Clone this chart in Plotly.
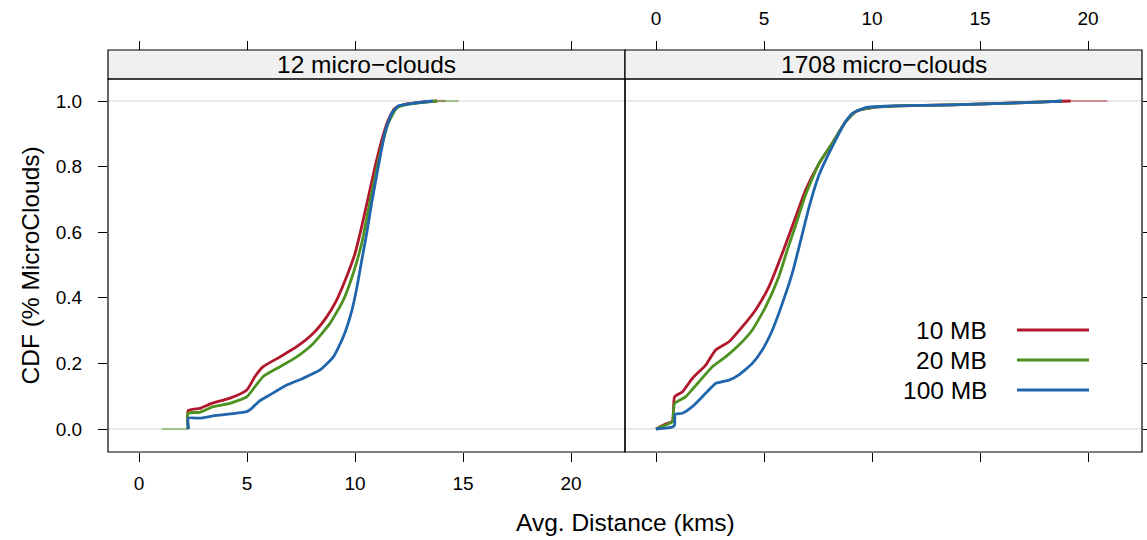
import plotly.graph_objects as go

# ---------------- data ----------------
series_names = ["10 MB", "20 MB", "100 MB"]
series_colors = ["#B2182B", "#4D9221", "#2166AC"]
series_faint = ["rgba(178,24,43,0.45)", "rgba(77,146,33,0.45)", "rgba(33,102,172,0.45)"]
panel_titles = ["12 micro\u2212clouds", "1708 micro\u2212clouds"]
x_ticks = [0, 5, 10, 15, 20]
y_ticks = [0.0, 0.2, 0.4, 0.6, 0.8, 1.0]
y_tick_labels = ["0.0", "0.2", "0.4", "0.6", "0.8", "1.0"]

# panel 1: 12 micro-clouds
red_L_x = [2.28, 2.28, 2.82, 3.36, 4.21, 4.99, 5.37, 5.75, 6.53, 7.30, 8.07, 8.69, 9.15, 9.61, 10.0,
           10.31, 10.62, 10.93, 11.24, 11.54, 11.85, 12.39, 13.0, 13.8]
red_L_y = [0.0, 0.056, 0.063, 0.078, 0.094, 0.119, 0.16, 0.19, 0.22, 0.251, 0.292, 0.342, 0.393, 0.464,
           0.535, 0.617, 0.708, 0.80, 0.881, 0.942, 0.978, 0.991, 0.996, 1.0]
green_L_x = [2.28, 2.28, 2.82, 3.44, 4.21, 4.99, 5.37, 5.75, 6.53, 7.30, 8.07, 8.84, 9.46, 9.92, 10.31,
             10.62, 10.93, 11.24, 11.54, 11.93, 12.55, 13.8]
green_L_y = [0.0, 0.048, 0.051, 0.068, 0.078, 0.098, 0.129, 0.16, 0.19, 0.22, 0.261, 0.322, 0.393, 0.475,
             0.566, 0.668, 0.769, 0.861, 0.932, 0.978, 0.991, 1.0]
blue_L_x = [2.28, 2.28, 2.82, 3.44, 4.21, 4.99, 5.22, 5.53, 6.06, 6.84, 7.61, 8.38, 9.0, 9.46, 9.85,
            10.08, 10.3, 10.55, 10.8, 11.08, 11.39, 11.70, 12.0, 12.7, 13.6]
blue_L_y = [0.0, 0.033, 0.033, 0.040, 0.046, 0.053, 0.063, 0.083, 0.104, 0.134, 0.155, 0.18, 0.22, 0.281,
            0.36, 0.429, 0.51, 0.60, 0.70, 0.80, 0.905, 0.962, 0.985, 0.993, 1.0]

# panel 2: 1708 micro-clouds
red_R_x = [0.0, 0.45, 0.76, 0.86, 1.22, 1.68, 2.30, 2.76, 3.38, 4.0, 4.61, 5.23, 5.85, 6.47, 6.93,
           7.55, 8.16, 8.78, 9.25, 10.0, 11.25, 13.7, 16.0, 18.3, 19.2]
red_R_y = [0.0, 0.015, 0.024, 0.098, 0.113, 0.154, 0.195, 0.241, 0.266, 0.312, 0.363, 0.434, 0.536, 0.647,
           0.729, 0.81, 0.871, 0.937, 0.968, 0.98, 0.985, 0.988, 0.993, 0.998, 1.0]
green_R_x = [0.0, 0.45, 0.76, 0.86, 1.37, 1.99, 2.61, 3.22, 3.84, 4.46, 5.08, 5.69, 6.08, 6.47, 6.93, 7.55,
             8.16, 8.78, 9.25, 10.0, 11.25, 13.7, 16.0, 18.3, 18.8]
green_R_y = [0.0, 0.012, 0.022, 0.078, 0.098, 0.144, 0.19, 0.22, 0.256, 0.302, 0.373, 0.465, 0.546, 0.622,
             0.715, 0.81, 0.871, 0.937, 0.968, 0.98, 0.985, 0.988, 0.993, 0.998, 1.0]
blue_R_x = [0.0, 0.76, 0.86, 0.89, 1.22, 1.68, 2.30, 2.76, 3.38, 3.84, 4.46, 4.92, 5.39, 5.85, 6.31, 6.7,
            7.08, 7.55, 8.16, 8.78, 9.09, 9.71, 10.94, 13.7, 16.0, 18.3, 18.8]
blue_R_y = [0.0, 0.006, 0.012, 0.045, 0.048, 0.068, 0.109, 0.139, 0.149, 0.165, 0.20, 0.241, 0.302, 0.383,
            0.475, 0.575, 0.675, 0.775, 0.861, 0.937, 0.962, 0.98, 0.985, 0.988, 0.993, 0.998, 1.0]

# faint extension segments (series index, x start, x end, y level)
tails_L = [(1, 1.05, 2.28, 0.0), (0, 13.8, 14.2, 1.0), (1, 13.8, 14.8, 1.0)]
tails_R = [(1, 18.8, 19.2, 1.0), (0, 19.2, 20.9, 1.0)]

x_range = [-1.435, 22.5]
y_range = [-0.0701, 1.0671]

# ---------------- figure ----------------
W, H = 1147, 540
ml, mr, mt, mb = 108, 5, 50, 88
plot_h = H - mt - mb
plot_w = W - ml - mr
yd = (452 - 79) / plot_h  # top of panel region (strip above)

fig = go.Figure()

panels = [
    ("x", [(red_L_x, red_L_y), (green_L_x, green_L_y), (blue_L_x, blue_L_y)], tails_L),
    ("x2", [(red_R_x, red_R_y), (green_R_x, green_R_y), (blue_R_x, blue_R_y)], tails_R),
]
for xa, curves, tails in panels:
    for (si, x0, x1, yl) in tails:
        fig.add_trace(go.Scatter(x=[x0, x1], y=[yl, yl], mode="lines", xaxis=xa, yaxis="y",
                                 line=dict(color=series_faint[si], width=2.2),
                                 showlegend=False, hoverinfo="skip"))
    for i, (cx, cy) in enumerate(curves):
        fig.add_trace(go.Scatter(x=cx, y=cy, mode="lines", xaxis=xa, yaxis="y",
                                 name=series_names[i],
                                 line=dict(color=series_colors[i], width=2.8, shape="spline",
                                           smoothing=0.5),
                                 showlegend=False))

# dummy traces so the extra tick axes are drawn
fig.add_trace(go.Scatter(x=[None], y=[None], xaxis="x3", yaxis="y", showlegend=False, hoverinfo="skip"))
fig.add_trace(go.Scatter(x=[None], y=[None], xaxis="x4", yaxis="y", showlegend=False, hoverinfo="skip"))
fig.add_trace(go.Scatter(x=[None], y=[None], xaxis="x2", yaxis="y2", showlegend=False, hoverinfo="skip"))

FONT = "Liberation Sans, Arial, Helvetica, sans-serif"
tick_font = dict(family=FONT, size=19, color="black")
common_x = dict(range=x_range, tickvals=x_ticks, ticktext=[str(v) for v in x_ticks],
                ticks="outside", ticklen=9, tickwidth=1, tickcolor="black", automargin=False,
                showgrid=False, zeroline=False, showline=False, tickfont=tick_font, fixedrange=True)

fig.update_layout(
    width=W, height=H,
    margin=dict(l=ml, r=mr, t=mt, b=mb, autoexpand=False),
    paper_bgcolor="white", plot_bgcolor="white",
    showlegend=False,
    xaxis=dict(domain=[0, 0.5], anchor="y", side="bottom", showticklabels=True,
               ticklabelstandoff=5, **common_x),
    xaxis2=dict(domain=[0.5, 1], anchor="y", side="bottom", showticklabels=False, **common_x),
    xaxis3=dict(overlaying="x", anchor="free", position=1, side="top", showticklabels=False, **common_x),
    xaxis4=dict(overlaying="x2", anchor="free", position=1, side="top", showticklabels=True,
                ticklabelstandoff=8, **common_x),
    yaxis=dict(domain=[0, yd], anchor="x", side="left", range=y_range, tickvals=y_ticks,
               ticktext=y_tick_labels, ticks="outside", ticklen=9, tickwidth=1, tickcolor="black",
               ticklabelstandoff=12, automargin=False,
               showgrid=False, zeroline=False, showline=False, tickfont=tick_font, fixedrange=True),
    yaxis2=dict(overlaying="y", anchor="x2", side="right", range=y_range, tickvals=y_ticks,
                ticks="outside", ticklen=8, tickwidth=1, tickcolor="black", showticklabels=False,
                automargin=False,
                showgrid=False, zeroline=False, showline=False, fixedrange=True),
    font=dict(family=FONT, color="black"),
)

shapes = []
# reference lines at 0 and 1
for yv in [0.0, 1.0]:
    for xr in ["x", "x2"]:
        shapes.append(dict(type="line", xref=xr + " domain", yref="y", x0=0, x1=1, y0=yv, y1=yv,
                           line=dict(color="#e3e3e3", width=1.5), layer="below"))
# strips and panel borders
for x0, x1 in [(0, 0.5), (0.5, 1)]:
    shapes.append(dict(type="rect", xref="paper", yref="paper", x0=x0, x1=x1, y0=yd, y1=1,
                       fillcolor="#f0f0f0", line=dict(color="black", width=1.2), layer="below"))
    shapes.append(dict(type="rect", xref="paper", yref="paper", x0=x0, x1=x1, y0=0, y1=yd,
                       fillcolor="rgba(0,0,0,0)", line=dict(color="black", width=1.2), layer="above"))

# legend lines
leg_y_px = [330, 360, 390]
lx0 = (1017 - ml) / plot_w
lx1 = (1089 - ml) / plot_w
for i, ypx in enumerate(leg_y_px):
    yp = (452 - ypx) / plot_h
    shapes.append(dict(type="line", xref="paper", yref="paper", x0=lx0, x1=lx1, y0=yp, y1=yp,
                       line=dict(color=series_colors[i], width=2.8)))
fig.update_layout(shapes=shapes)

BIG = 24.5
annotations = []
for i, t in enumerate(panel_titles):
    annotations.append(dict(text=t, xref="paper", yref="paper", x=0.25 + 0.5 * i, y=(yd + 1) / 2,
                            xanchor="center", yanchor="middle", showarrow=False,
                            font=dict(family=FONT, size=BIG, color="black")))
tx = (989 - ml) / plot_w
for i, ypx in enumerate(leg_y_px):
    annotations.append(dict(text=series_names[i], xref="paper", yref="paper", x=tx,
                            y=(452 - ypx) / plot_h, xanchor="right", yanchor="middle", showarrow=False,
                            font=dict(family=FONT, size=BIG, color="black")))
annotations.append(dict(text="Avg. Distance (kms)", xref="paper", yref="paper", x=0.5,
                        y=(452 - 522) / plot_h, xanchor="center", yanchor="middle", showarrow=False,
                        font=dict(family=FONT, size=BIG, color="black")))
annotations.append(dict(text="CDF (% MicroClouds)", xref="paper", yref="paper", x=(30 - ml) / plot_w,
                        y=(452 - 265.5) / plot_h, xanchor="center", yanchor="middle", showarrow=False,
                        textangle=-90, font=dict(family=FONT, size=BIG, color="black")))
fig.update_layout(annotations=annotations)

fig.write_html("out.html")
